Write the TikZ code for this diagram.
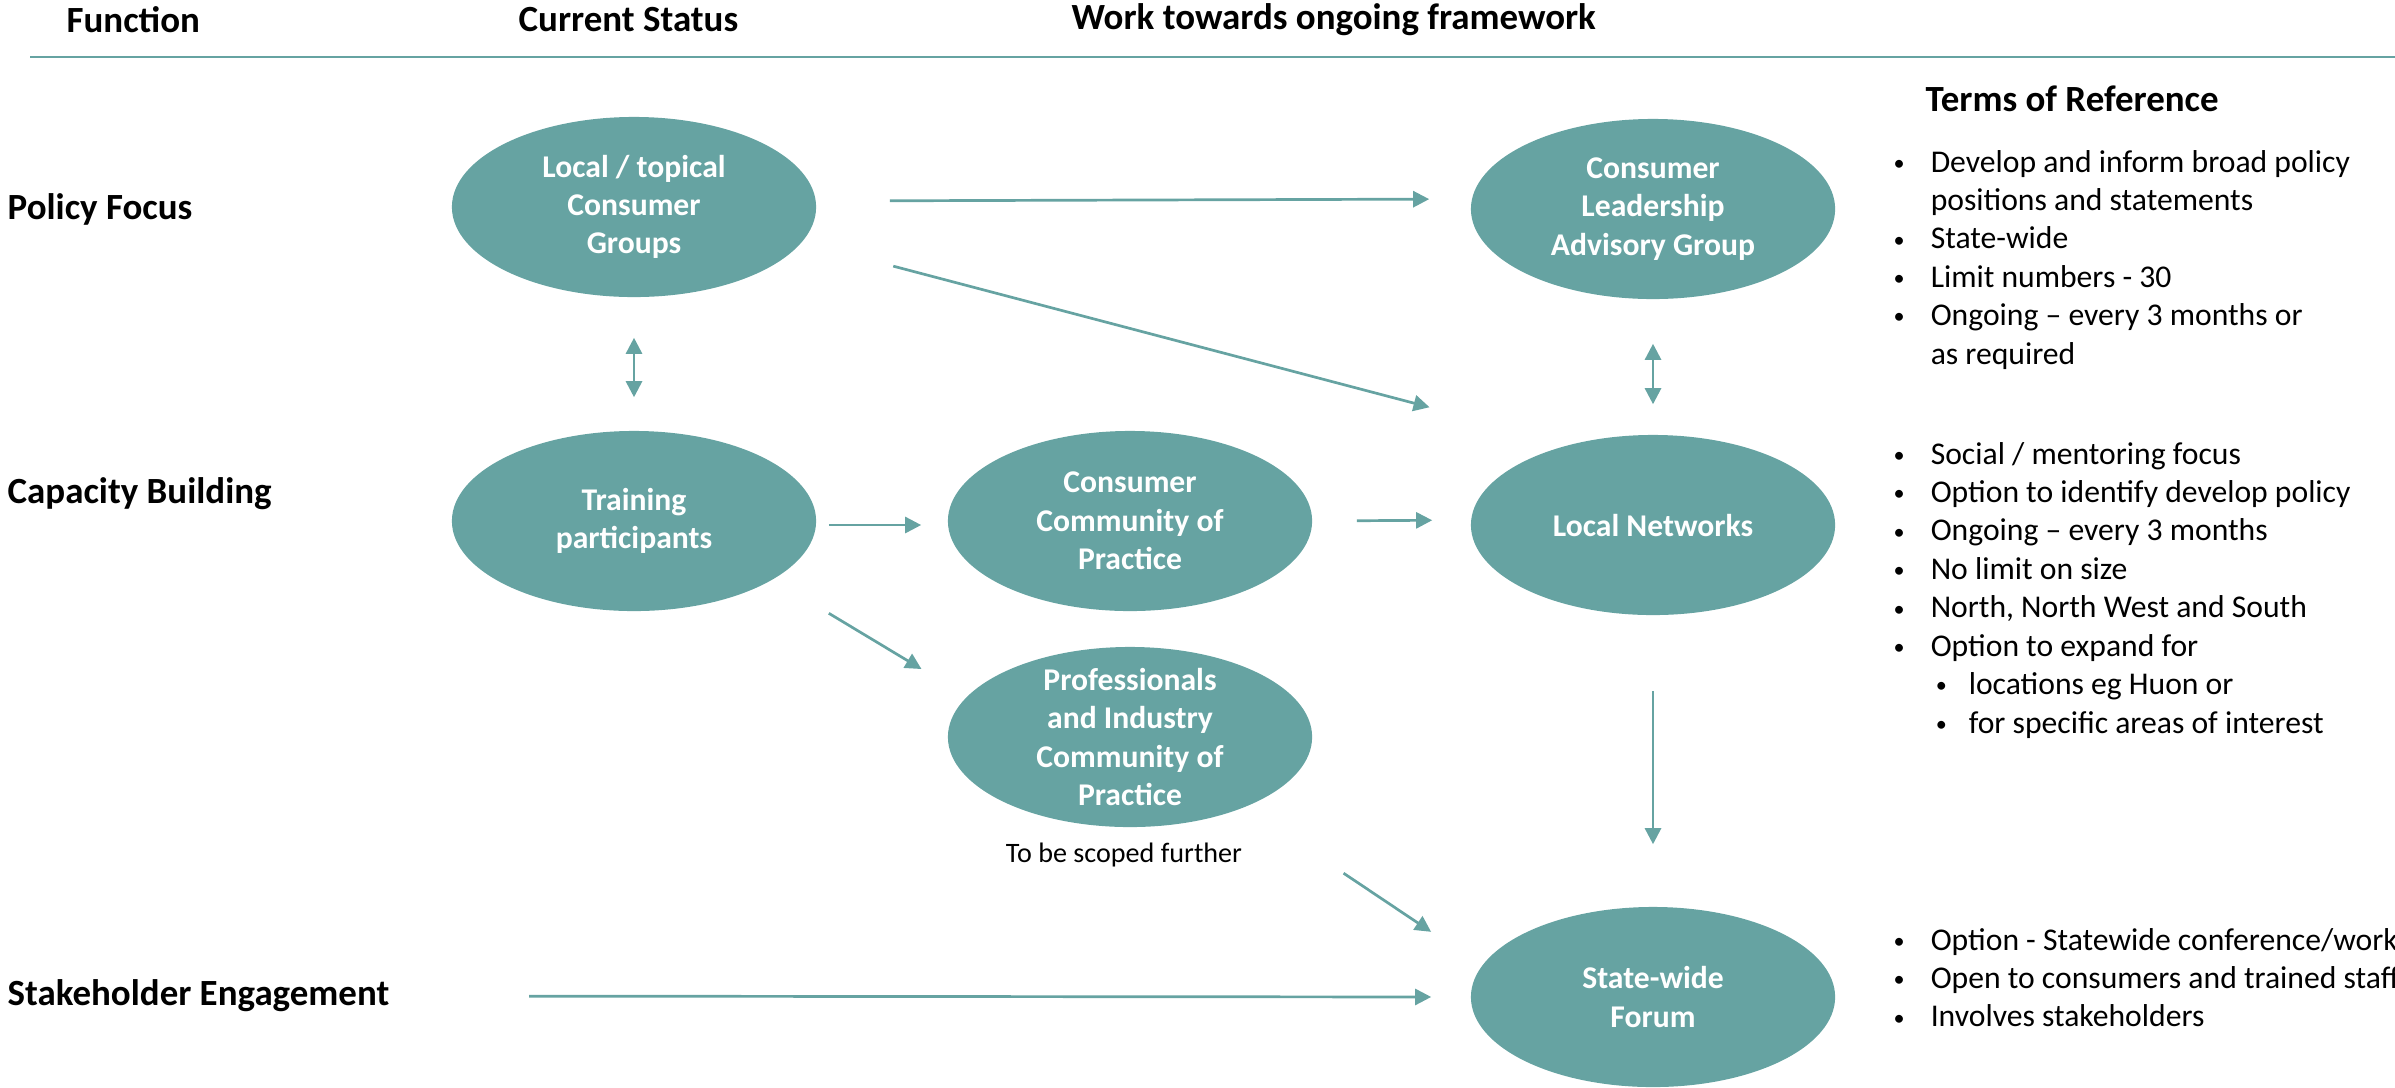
\documentclass[tikz,border=0pt]{standalone}
\usepackage{fontspec}
\setmainfont{Carlito}
\usetikzlibrary{shapes.geometric,arrows.meta}
\definecolor{sea}{RGB}{102,163,162}
\newcommand{\tordot}{\raisebox{0.5pt}{\scalebox{0.7}{\textbullet}}}
\newcommand{\bul}{\makebox[3.7mm][l]{\tordot}}
\newcommand{\subbul}{\hspace*{4.2mm}\makebox[3.3mm][l]{\tordot}}
\newcommand{\cont}{\hspace*{3.7mm}}

\begin{document}
\begin{tikzpicture}[x=0.01cm,y=-0.01cm,
		oval/.style={ellipse,fill=sea,text=white,inner sep=-4pt,minimum width=3.64cm,minimum height=1.8cm,align=center,font=\fontsize{9}{10.9}\selectfont\bfseries},
		head/.style={anchor=west,inner sep=0pt,font=\fontsize{10.5}{12.6}\selectfont\bfseries},
		tor/.style={anchor=base west,inner sep=0pt,font=\fontsize{9}{10.93}\selectfont},
		link/.style={draw=sea,line width=0.27mm,-{Triangle[length=1.6mm,width=1.6mm]}},
		twoway/.style={link,{Triangle[length=1.6mm,width=1.6mm]}-{Triangle[length=1.6mm,width=1.6mm]}}]
	\useasboundingbox (0,0) rectangle (2395,1087);

	% column and row headings
	\node[head] (fn) at (66,20)	{Function};
	\node[head] (cs) at (518,20)	{Current Status};
	\node[head] (wt) at (1071,20)	{Work towards ongoing framework};
	\draw[sea,line width=0.2mm] (30,57) -- (2395,57);
	\node[head] (pf) at (7,209)	{Policy Focus};
	\node[head] (cb) at (7,494)	{Capacity Building};
	\node[head] (se) at (7,996)	{Stakeholder Engagement};

	% groups
	\node[oval] (lcg)	at (634,207)	{Local / topical\\Consumer\\Groups};
	\node[oval] (clag)	at (1653,209)	{Consumer\\Leadership\\Advisory Group};
	\node[oval] (tp)	at (634,521)	{Training\\participants};
	\node[oval] (ccop)	at (1130,521)	{Consumer\\Community of\\Practice};
	\node[oval] (ln)	at (1653,525)	{Local Networks};
	\node[oval] (picop)	at (1130,737)	{Professionals\\and Industry\\Community of\\Practice};
	\node[oval] (swf)	at (1653,997)	{State-wide\\Forum};
	\node[inner sep=0pt,font=\fontsize{8}{9.6}\selectfont] (scope) at (1124,855) {To be scoped further};

	% terms of reference
	\node[head] (tr) at (1925,99) {Terms of Reference};
	\node[tor] (tor1) at (1893,172) {\begin{tabular}[t]{@{}l@{}}
		\bul Develop and inform broad policy\\
		\cont positions and statements\\
		\bul State-wide\\
		\bul Limit numbers - 30\\
		\bul Ongoing – every 3 months or\\
		\cont as required
	\end{tabular}};
	\node[tor] (tor2) at (1893,464) {\begin{tabular}[t]{@{}l@{}}
		\bul Social / mentoring focus\\
		\bul Option to identify develop policy\\
		\bul Ongoing – every 3 months\\
		\bul No limit on size\\
		\bul North, North West and South\\
		\bul Option to expand for\\
		\subbul locations eg Huon or\\
		\subbul for specific areas of interest
	\end{tabular}};
	\node[tor] (tor3) at (1893,950) {\begin{tabular}[t]{@{}l@{}}
		\bul Option - Statewide conference/workshop\\
		\bul Open to consumers and trained staff\\
		\bul Involves stakeholders
	\end{tabular}};

	% connectors
	\draw[link,shorten <=7.3mm,shorten >=4.1mm] ([yshift=0.6mm]lcg.east) -- ([yshift=1mm]clag.west);
	\draw[link,shorten <=7.9mm,shorten >=4.2mm] ([yshift=-3.9mm]lcg.east) -- ([yshift=10.7mm]ln.west);
	\draw[twoway,shorten <=4mm,shorten >=3.3mm] (lcg.south) -- (tp.north);
	\draw[twoway,shorten <=4.4mm,shorten >=3mm] (clag.south) -- (ln.north);
	\draw[link,shorten <=1.2mm,shorten >=2.6mm] ([yshift=-0.4mm]tp.east) -- ([yshift=-0.4mm]ccop.west);
	\draw[link,shorten <=1.4mm,shorten >=3mm] ([yshift=-8.5mm]tp.east) -- ([yshift=5.25mm]picop.west);
	\draw[link,shorten <=4.4mm,shorten >=3.8mm] (ccop.east) -- ([yshift=0.5mm]ln.west);
	\draw[link,shorten <=7.5mm,shorten >=6.2mm] (ln.south) -- (swf.north);
	\draw[link,shorten <=3.7mm,shorten >=4.7mm] ([yshift=-11.55mm]picop.east) -- ([yshift=3.9mm]swf.west);
	\draw[link,shorten <=13.9mm,shorten >=3.9mm] (se.east) -- (swf.west);
\end{tikzpicture}
\end{document}
